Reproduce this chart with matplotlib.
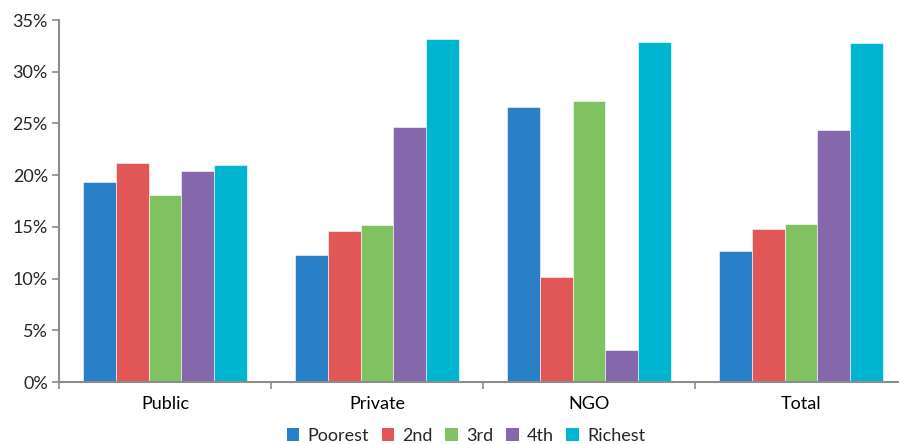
import numpy as np
import matplotlib.pyplot as plt
from matplotlib.patches import Patch
from matplotlib.ticker import FuncFormatter

# ------------------------------------------------------------ data
categories = ['Public', 'Private', 'NGO', 'Total']
series = ['Poorest', '2nd', '3rd', '4th', 'Richest']
poorest = [19.3, 12.3, 26.6, 12.7]
second = [21.2, 14.6, 10.2, 14.8]
third = [18.05, 15.15, 27.2, 15.3]
fourth = [20.4, 24.7, 3.05, 24.4]
richest = [21.0, 33.2, 32.9, 32.8]

values = [poorest, second, third, fourth, richest]
colors = ['#2a80c6', '#e15757', '#80c261', '#8567ab', '#00b5cf']

plt.rcParams['font.family'] = ['Lato', 'DejaVu Sans']
plt.rcParams['font.size'] = 12

fig = plt.figure(figsize=(8.99, 4.44), dpi=100)
ax = fig.add_axes([59 / 899, 62 / 444, 848 / 899, 362 / 444])

x = np.arange(len(categories))
w = 0.155
for i, vals in enumerate(values):
    ax.bar(x + (i - 2) * w, vals, width=w, color=colors[i],
           edgecolor='white', linewidth=0.4, zorder=2)

ax.set_xlim(-0.5, len(categories) - 0.5)
ax.set_ylim(0, 35)
ax.set_yticks(np.arange(0, 36, 5))
ax.yaxis.set_major_formatter(FuncFormatter(lambda v, p: '%d%%' % v))

# category labels centred, ticks at the boundaries
ax.set_xticks(np.arange(-0.5, len(categories), 1))
ax.set_xticklabels([])
ax.set_xticks(x, minor=True)
ax.set_xticklabels(categories, minor=True)
ax.tick_params(axis='x', which='minor', length=0, pad=10, labelsize=13)
ax.tick_params(axis='x', which='major', length=5, color='#8c8c8c', width=1.2)
ax.tick_params(axis='y', length=5, color='#8c8c8c', width=1.2,
               labelsize=13, labelcolor='#262626', pad=3)
ax.tick_params(axis='x', labelcolor='#262626')

for s in ['top', 'right']:
    ax.spines[s].set_visible(False)
for s in ['left', 'bottom']:
    ax.spines[s].set_color('#8c8c8c')
    ax.spines[s].set_linewidth(1.5)

handles = [Patch(facecolor=c, label=l) for c, l in zip(colors, series)]
fig.legend(handles=handles, loc='center', bbox_to_anchor=(466 / 899, 1 - 436 / 444),
           ncol=5, frameon=False, fontsize=13, handlelength=0.7,
           handleheight=0.7, handletextpad=0.45, columnspacing=0.7,
           labelcolor='#262626')

fig.savefig('out.png', dpi=100)
